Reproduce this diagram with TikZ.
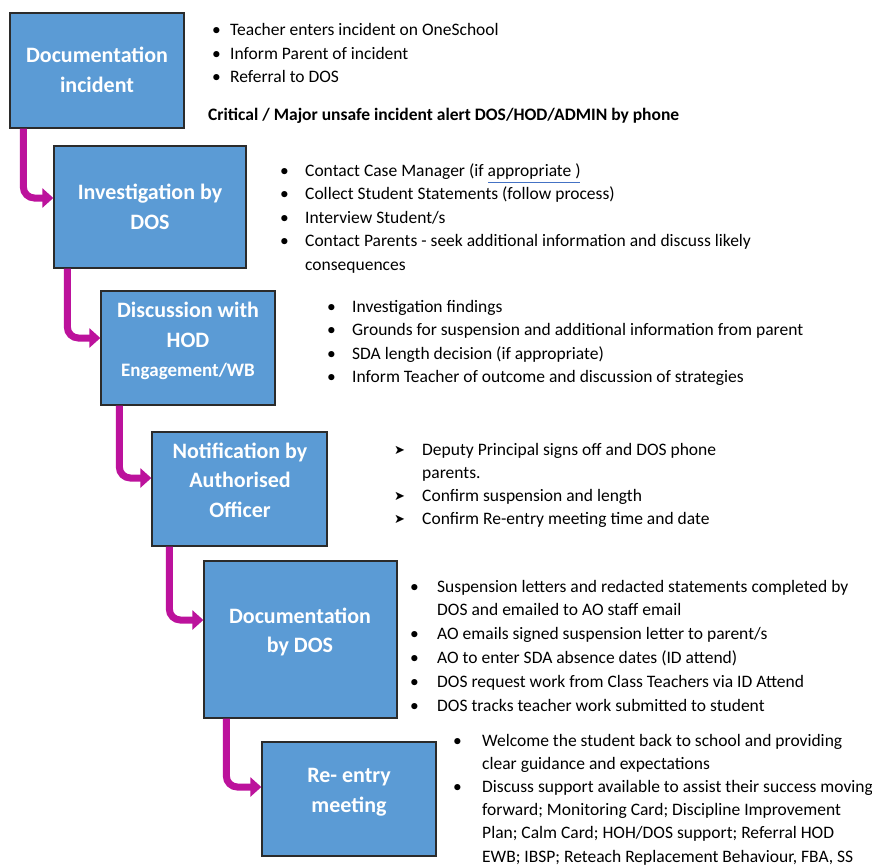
\documentclass[tikz,border=0pt]{standalone}
\usepackage{fontspec}
\setmainfont{Carlito}
\newfontfamily\dejavu{DejaVu Sans}
\usetikzlibrary{arrows.meta,calc}
\definecolor{boxblue}{HTML}{5B9BD5}
\definecolor{boxline}{HTML}{2B2B2B}
\definecolor{flowmag}{HTML}{BC129C}
\definecolor{spellblue}{HTML}{4472C4}
\newcommand{\bul}{\textbullet}
\newcommand{\arr}{\raisebox{0.5pt}{\dejavu\fontsize{13}{13}\selectfont ➤}}
\begin{document}
\begin{tikzpicture}[x=1pt,y=-1pt,
  box/.style={draw=boxline,line width=1.3pt,fill=boxblue,inner sep=0pt},
  title/.style={text=white,font=\fontsize{22}{29.5}\selectfont\bfseries,align=center,inner sep=0pt},
  flow/.style={draw=flowmag,line width=7pt,rounded corners=11pt,-{Triangle[width=19pt,length=11pt]}},
  notes/.style={anchor=base west,inner sep=0pt,font=\fontsize{17.5}{23.5}\selectfont}
]
\fill[white] (0,0) rectangle (872,864);
\useasboundingbox (0,0) rectangle (872,864);

% boxes
\node[box,minimum width=174pt,minimum height=115pt] (b1) at (97,70.5) {};
\node[box,minimum width=192pt,minimum height=122pt] (b2) at (150,207) {};
\node[box,minimum width=174pt,minimum height=114pt] (b3) at (188,348) {};
\node[box,minimum width=175pt,minimum height=114pt] (b4) at (239.5,489) {};
\node[box,minimum width=193pt,minimum height=157pt] (b5) at (300.5,639.5) {};
\node[box,minimum width=174pt,minimum height=114pt] (b6) at (349,799) {};

% titles
\node[title] (t1) at (97,70) {Documentation\\incident};
\node[title] (t2) at (150,207) {Investigation by\\DOS};
\node[title] (t3) at (188,341) {Discussion with\\HOD\\{\fontsize{19}{24}\selectfont Engagement/WB}};
\node[title] (t4) at (240,480) {Notification by\\Authorised\\Officer};
\node[title] (t5) at (300,632) {Documentation\\by DOS};
\node[title] (t6) at (349,792) {Re- entry\\meeting};

% arrows
\draw[flow] ([xshift=14pt]b1.south west) |- ([yshift=9pt]b2.west);
\draw[flow] ([xshift=14pt]b2.south west) |- ([yshift=10pt]b3.west);
\draw[flow] ([xshift=19pt]b3.south west) |- ([yshift=11pt]b4.west);
\draw[flow] ([xshift=18pt]b4.south west) |- ([yshift=19.5pt]b5.west);
\draw[flow] ([xshift=23pt]b5.south west) |- ([yshift=12pt]b6.west);

% notes
\node[notes] (n1) at (212,36) {\begin{tabular}[t]{@{}p{18pt}@{}l@{}}
\bul & Teacher enters incident on OneSchool\\
\bul & Inform Parent of incident\\
\bul & Referral to DOS
\end{tabular}};
\node[anchor=base west,inner sep=0pt,font=\fontsize{17.5}{20}\selectfont\bfseries] (crit) at (208,121) {Critical / Major unsafe incident alert DOS/HOD/ADMIN by phone};

\node[notes] (n2) at (280,176) {\begin{tabular}[t]{@{}p{25pt}@{}l@{}}
\bul & Contact Case Manager (if appropriate )\\
\bul & Collect Student Statements (follow process)\\
\bul & Interview Student/s\\
\bul & Contact Parents - seek additional information and discuss likely\\
 & consequences
\end{tabular}};
\draw[spellblue,line width=0.9pt] (488,182) -- (580,182);

\node[notes] (n3) at (327,312) {\begin{tabular}[t]{@{}p{25pt}@{}l@{}}
\bul & Investigation findings\\
\bul & Grounds for suspension and additional information from parent\\
\bul & SDA length decision (if appropriate)\\
\bul & Inform Teacher of outcome and discussion of strategies
\end{tabular}};

\node[notes,font=\fontsize{17.5}{23}\selectfont] (n4) at (394,455) {\begin{tabular}[t]{@{}p{28pt}@{}l@{}}
\arr & Deputy Principal signs off and DOS phone\\
 & parents.\\
\arr & Confirm suspension and length\\
\arr & Confirm Re-entry meeting time and date
\end{tabular}};

\node[notes,font=\fontsize{17.5}{23.8}\selectfont] (n5) at (410,592) {\begin{tabular}[t]{@{}p{27pt}@{}l@{}}
\bul & Suspension letters and redacted statements completed by\\
 & DOS and emailed to AO staff email\\
\bul & AO emails signed suspension letter to parent/s\\
\bul & AO to enter SDA absence dates (ID attend)\\
\bul & DOS request work from Class Teachers via ID Attend\\
\bul & DOS tracks teacher work submitted to student
\end{tabular}};

\node[notes,font=\fontsize{17.5}{23.2}\selectfont] (n6) at (453,746) {\begin{tabular}[t]{@{}p{29pt}@{}l@{}}
\bul & Welcome the student back to school and providing\\
 & clear guidance and expectations\\
\bul & Discuss support available to assist their success moving\\
 & forward; Monitoring Card; Discipline Improvement\\
 & Plan; Calm Card; HOH/DOS support; Referral HOD\\
 & EWB; IBSP; Reteach Replacement Behaviour, FBA, SS
\end{tabular}};
\end{tikzpicture}
\end{document}
